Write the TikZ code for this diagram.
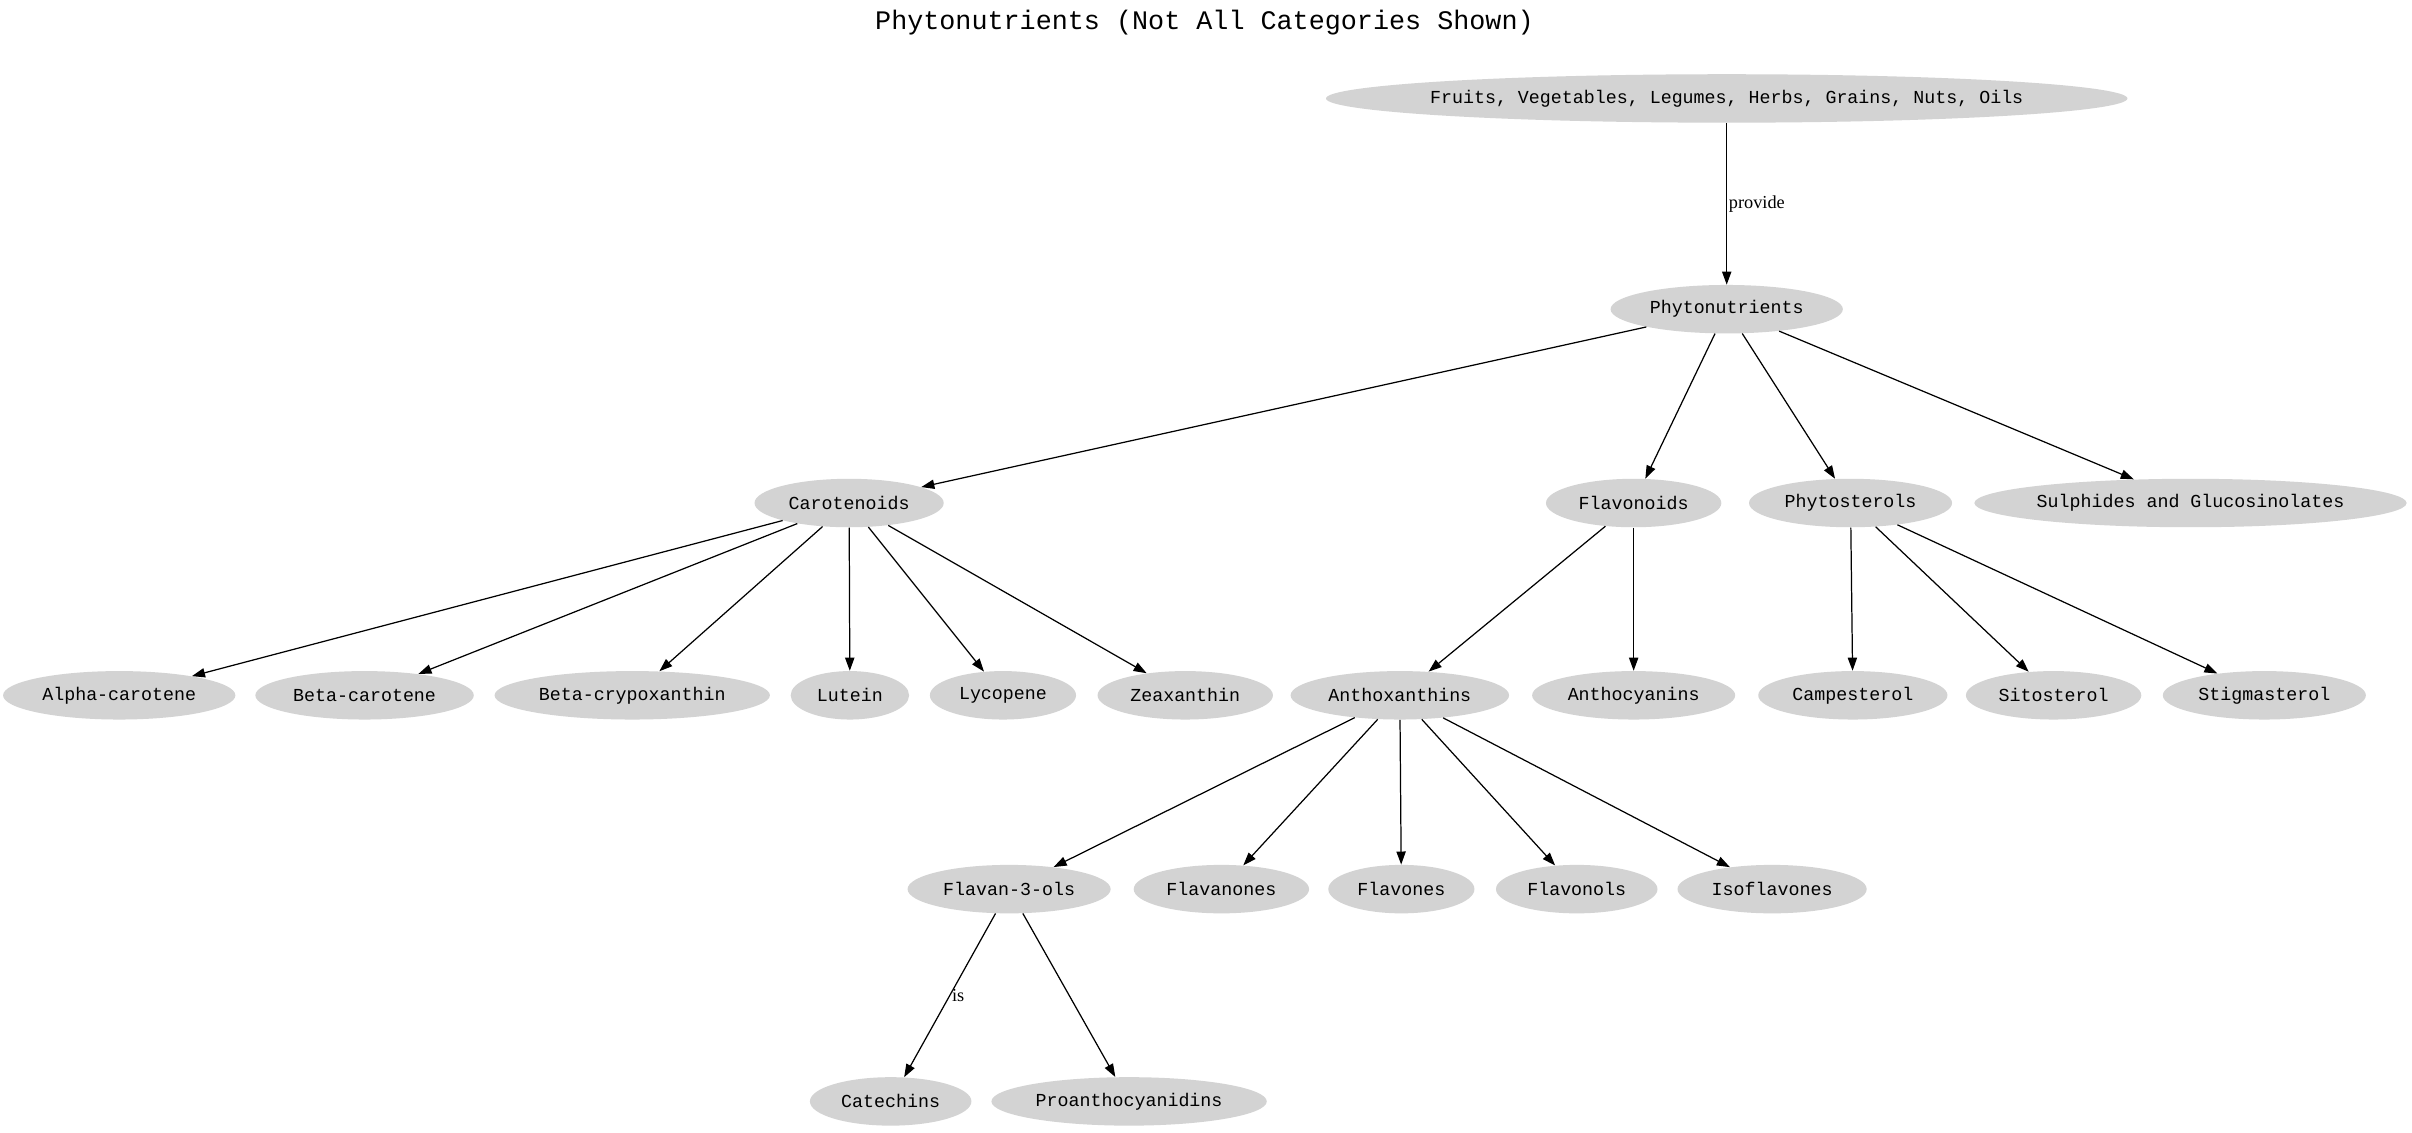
\documentclass[tikz,border=0pt]{standalone}
\usepackage{fontspec}
\setmainfont{Liberation Serif}
\setmonofont{Liberation Mono}
\usetikzlibrary{
  arrows.meta,
  shapes.geometric,
  positioning
}
\definecolor{ptFill}{HTML}{D3D3D3}
\tikzset{
  ptnode/.style={
    ellipse, fill=ptFill, minimum height=31.5pt, minimum width=#1,
    inner xsep=-12pt, inner ysep=2pt,
    font=\ttfamily\fontsize{11.9}{14}\selectfont
  },
  ptnode/.default=114pt,
  ptedge/.style={-{Triangle[length=8.5pt, width=6pt]}, line width=0.8pt, black},
  ptlabel/.style={font=\fontsize{11.9}{14}\selectfont, inner sep=1pt},
  pttitle/.style={font=\ttfamily\fontsize{17.4}{20}\selectfont}
}

\begin{document}
\begin{tikzpicture}[x=1pt, y=-1pt]
  \useasboundingbox (0,0) rectangle (1568,736);
  \node[pttitle] (title) at (783,15) {Phytonutrients (Not All Categories Shown)};

  % sources and root
  \node[ptnode=521pt] (fruits) at (1122.5,64) {Fruits, Vegetables, Legumes, Herbs, Grains, Nuts, Oils};
  \node[ptnode=151pt] (phyto) at (1122.5,201) {Phytonutrients};

  % main categories
  \node[ptnode=123pt] (carot) at (552,327) {Carotenoids};
  \node[ptnode=114pt] (flavo) at (1062,327) {Flavonoids};
  \node[ptnode=132pt] (sterol) at (1203,327) {Phytosterols};
  \node[ptnode=281pt] (sulph) at (1424,327) {Sulphides and Glucosinolates};

  % subcategories
  \node[ptnode=151pt] (alpha) at (77.5,452) {Alpha-carotene};
  \node[ptnode=142pt] (betac) at (237,452) {Beta-carotene};
  \node[ptnode=179pt] (betacr) at (411,452) {Beta-crypoxanthin};
  \node[ptnode=77pt] (lutein) at (552.5,452) {Lutein};
  \node[ptnode=95pt] (lyco) at (652,452) {Lycopene};
  \node[ptnode=114pt] (zeax) at (770.5,452) {Zeaxanthin};
  \node[ptnode=142pt] (anthox) at (910,452) {Anthoxanthins};
  \node[ptnode=132pt] (anthoc) at (1062,452) {Anthocyanins};
  \node[ptnode=123pt] (campe) at (1204.5,452) {Campesterol};
  \node[ptnode=114pt] (sito) at (1335,452) {Sitosterol};
  \node[ptnode=132pt] (stigma) at (1472,452) {Stigmasterol};

  \node[ptnode=132pt] (flavan) at (656,578) {Flavan-3-ols};
  \node[ptnode=114pt] (flavanon) at (794,578) {Flavanones};
  \node[ptnode=95pt] (flavon) at (911,578) {Flavones};
  \node[ptnode=105pt] (flavonol) at (1025,578) {Flavonols};
  \node[ptnode=123pt] (isoflav) at (1152,578) {Isoflavones};

  \node[ptnode=105pt] (catech) at (579,716) {Catechins};
  \node[ptnode=179pt] (proanth) at (734,716) {Proanthocyanidins};

  % connectors
  \draw[ptedge] (fruits) -- node[ptlabel, right] {provide} (phyto);
  \foreach \c in {carot,flavo,sterol,sulph}
    \draw[ptedge] (phyto) -- (\c);
  \foreach \c in {alpha,betac,betacr,lutein,lyco,zeax}
    \draw[ptedge] (carot) -- (\c);
  \foreach \c in {anthox,anthoc}
    \draw[ptedge] (flavo) -- (\c);
  \foreach \c in {campe,sito,stigma}
    \draw[ptedge] (sterol) -- (\c);
  \foreach \c in {flavan,flavanon,flavon,flavonol,isoflav}
    \draw[ptedge] (anthox) -- (\c);
  \draw[ptedge] (flavan) -- node[ptlabel, right] {is} (catech);
  \draw[ptedge] (flavan) -- (proanth);
\end{tikzpicture}
\end{document}
